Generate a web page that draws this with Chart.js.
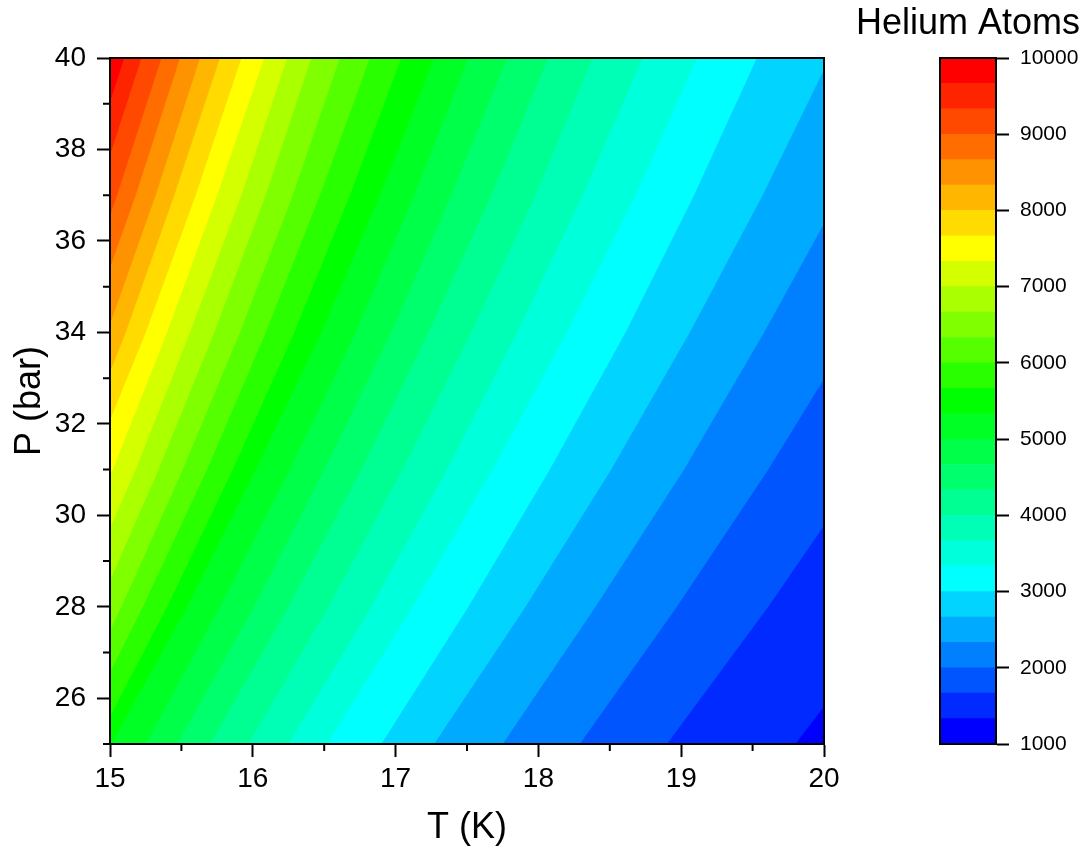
<!DOCTYPE html>
<html>
<head>
<meta charset="utf-8">
<script src="https://cdn.jsdelivr.net/npm/chart.js@4.4.1/dist/chart.umd.min.js"></script>
<style>
  html, body { margin: 0; padding: 0; background: #fff; }
  #wrap { position: relative; width: 1086px; height: 857px; }
  #contour { position: absolute; left: 0; top: 0; }
  #scaleBar { position: absolute; left: 850px; top: 0; }
</style>
</head>
<body>
<div id="wrap">
  <canvas id="contour" width="850" height="857"></canvas>
  <canvas id="scaleBar" width="236" height="857"></canvas>
</div>
<script>
// contour levels (Helium atoms), lowest first
const levels = [1333.3, 1666.7, 2000, 2333.3, 2666.7, 3000, 3333.3, 3666.7, 4000, 4333.3, 4666.7, 5000, 5333.3,
                5666.7, 6000, 6333.3, 6666.7, 7000, 7333.3, 7666.7, 8000, 8333.3, 8666.7, 9000, 9333.3, 9666.7];

const pRows = [25, 28, 31, 34, 37, 40];

// temperature (K) where each level crosses the pressure row (values past 15 / 20 lie outside the frame)
const tAt25 = [19.80, 18.90, 18.29, 17.75, 17.27, 16.90, 16.52, 16.25, 15.97, 15.70, 15.47, 15.25, 15.01,
               14.90, 14.75, 14.62, 14.47, 14.31, 14.15, 14.00, 13.88, 13.77, 13.66, 13.52, 13.35, 13.24];
const tAt28 = [20.53, 19.61, 18.97, 18.40, 17.91, 17.51, 17.12, 16.83, 16.53, 16.25, 16.01, 15.77, 15.54,
               15.40, 15.23, 15.08, 14.92, 14.76, 14.60, 14.45, 14.32, 14.21, 14.08, 13.95, 13.79, 13.67];
const tAt31 = [21.21, 20.27, 19.61, 19.02, 18.51, 18.08, 17.68, 17.36, 17.05, 16.76, 16.50, 16.26, 16.02,
               15.86, 15.68, 15.51, 15.34, 15.18, 15.02, 14.86, 14.73, 14.61, 14.48, 14.34, 14.19, 14.07];
const tAt34 = [21.84, 20.87, 20.20, 19.58, 19.06, 18.61, 18.20, 17.85, 17.53, 17.23, 16.97, 16.72, 16.48,
               16.29, 16.09, 15.91, 15.73, 15.56, 15.40, 15.25, 15.11, 14.98, 14.84, 14.71, 14.57, 14.44];
const tAt37 = [22.42, 21.43, 20.74, 20.11, 19.57, 19.09, 18.68, 18.31, 17.98, 17.67, 17.39, 17.13, 16.89,
               16.68, 16.47, 16.28, 16.09, 15.92, 15.75, 15.60, 15.45, 15.32, 15.18, 15.05, 14.91, 14.79];
const tAt40 = [22.95, 21.95, 21.23, 20.58, 20.04, 19.53, 19.11, 18.73, 18.38, 18.07, 17.78, 17.51, 17.27,
               17.04, 16.82, 16.61, 16.41, 16.24, 16.08, 15.92, 15.77, 15.63, 15.49, 15.36, 15.22, 15.10];
const tRows = [tAt25, tAt28, tAt31, tAt34, tAt37, tAt40];

// band colours, band i spans bandEdges[i]..bandEdges[i+1]
const bandColors = ['#0000FF', '#002AFF', '#0055FF', '#0080FF', '#00AAFF', '#00D4FF', '#00FFFF',
                    '#00FFDB', '#00FFB6', '#00FF92', '#00FF6D', '#00FF49', '#00FF24', '#00FF00',
                    '#2AFF00', '#55FF00', '#80FF00', '#AAFF00', '#D4FF00', '#FFFF00',
                    '#FFDB00', '#FFB600', '#FF9200', '#FF6D00', '#FF4900', '#FF2400', '#FF0000'];
const bandEdges = [1000, ...levels, 10000];

const T_MIN = 15, T_MAX = 20, P_MIN = 25, P_MAX = 40;

Chart.defaults.font.family = "'Liberation Sans', Arial, sans-serif";
Chart.defaults.color = '#000';

// each level fills everything below/right of it; lowest level is drawn last (on top)
const contourSets = levels.map((lvl, k) => {
  const pts = pRows.map((p, r) => ({ x: tRows[r][k], y: p }));
  const last = pts[pts.length - 1];
  pts.push({ x: Math.max(T_MAX, last.x), y: last.y });
  return {
    label: 'N < ' + lvl,
    data: pts,
    backgroundColor: bandColors[k],
    borderWidth: 0,
    pointRadius: 0,
    tension: 0,
    fill: 'start'
  };
});

const areaBackground = {
  id: 'areaBackground',
  beforeDatasetsDraw(chart) {
    const { ctx, chartArea: a } = chart;
    ctx.save();
    ctx.fillStyle = bandColors[bandColors.length - 1];
    ctx.fillRect(a.left, a.top, a.right - a.left, a.bottom - a.top);
    ctx.restore();
  }
};

const frame = {
  id: 'frame',
  afterDatasetsDraw(chart) {
    const { ctx, chartArea: a } = chart;
    ctx.save();
    ctx.strokeStyle = '#000';
    ctx.lineWidth = 2;
    ctx.strokeRect(a.left, a.top, a.right - a.left, a.bottom - a.top);
    ctx.restore();
  }
};

const minorTicks = {
  id: 'minorTicks',
  afterDraw(chart) {
    const { ctx, chartArea: a } = chart;
    const sx = chart.scales.x, sy = chart.scales.y;
    ctx.save();
    ctx.strokeStyle = '#000';
    ctx.lineWidth = 2;
    ctx.beginPath();
    for (let v = sx.min + 0.5; v < sx.max; v += 1) {
      const px = sx.getPixelForValue(v);
      ctx.moveTo(px, a.bottom);
      ctx.lineTo(px, a.bottom + 7);
    }
    for (let v = sy.min; v < sy.max; v += 2) {
      const py = sy.getPixelForValue(v);
      ctx.moveTo(a.left, py);
      ctx.lineTo(a.left - 7, py);
    }
    ctx.stroke();
    ctx.restore();
  }
};

new Chart(document.getElementById('contour'), {
  type: 'line',
  data: { datasets: contourSets },
  options: {
    responsive: false,
    animation: false,
    events: [],
    layout: { padding: { top: 58, right: 26, left: 0, bottom: 0 } },
    plugins: { legend: { display: false }, tooltip: { enabled: false } },
    scales: {
      x: {
        type: 'linear', min: T_MIN, max: T_MAX,
        afterFit: s => { s.height = 113; },
        ticks: { stepSize: 1, font: { size: 28 }, padding: 5, maxRotation: 0, autoSkip: false },
        grid: { drawOnChartArea: false, tickLength: 13, tickWidth: 2, tickColor: '#000' },
        border: { color: '#000', width: 2 },
        title: { display: true, text: 'T (K)', font: { size: 36 }, padding: { top: 0, bottom: 7 } }
      },
      y: {
        type: 'linear', min: P_MIN, max: P_MAX,
        afterFit: s => { s.width = 110; },
        ticks: { stepSize: 2, includeBounds: false, font: { size: 28 }, padding: 11, autoSkip: false },
        grid: { drawOnChartArea: false, tickLength: 13, tickWidth: 2, tickColor: '#000' },
        border: { color: '#000', width: 2 },
        title: { display: true, text: 'P (bar)', font: { size: 36 }, padding: { top: 8, bottom: 0 } }
      }
    }
  },
  plugins: [areaBackground, frame, minorTicks]
});

// colour scale
new Chart(document.getElementById('scaleBar'), {
  type: 'bar',
  data: {
    labels: ['Helium Atoms'],
    datasets: bandColors.map((c, i) => ({
      data: [[bandEdges[i], bandEdges[i + 1]]],
      backgroundColor: c,
      borderWidth: 0,
      grouped: false,
      barPercentage: 1,
      categoryPercentage: 1,
      yAxisID: 'y'
    }))
  },
  options: {
    responsive: false,
    animation: false,
    events: [],
    layout: { padding: { bottom: 113 } },
    plugins: {
      legend: { display: false },
      tooltip: { enabled: false },
      title: {
        display: true, text: 'Helium Atoms', color: '#000',
        font: { size: 36, weight: 'normal' }, padding: { top: 2, bottom: 12.8 }
      }
    },
    scales: {
      x: { display: false },
      y: {
        type: 'linear', position: 'right', min: 1000, max: 10000,
        afterFit: s => { s.width = 90; },
        ticks: { stepSize: 1000, font: { size: 21 }, padding: 11, callback: v => String(v) },
        grid: { drawOnChartArea: false, tickLength: 13, tickWidth: 2, tickColor: '#000' },
        border: { color: '#000', width: 2 }
      },
      yPad: {
        type: 'linear', axis: 'y', position: 'left', display: true,
        afterFit: s => { s.width = 90; },
        ticks: { display: false },
        grid: { display: false },
        border: { display: false }
      }
    }
  },
  plugins: [frame]
});
</script>
</body>
</html>
